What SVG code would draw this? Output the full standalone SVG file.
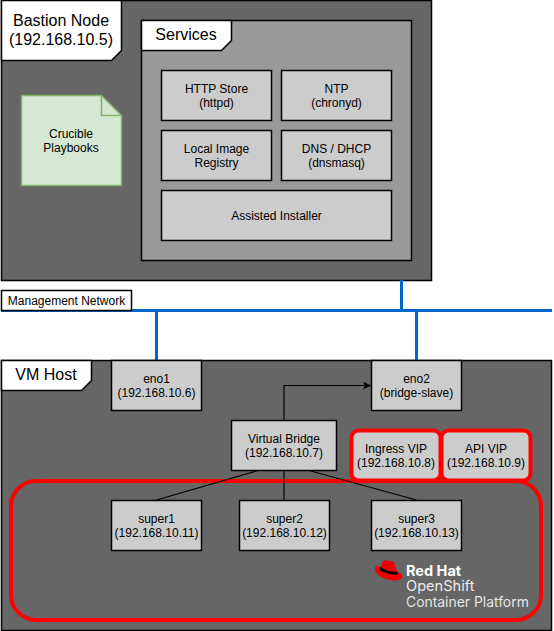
<svg xmlns="http://www.w3.org/2000/svg" width="554" height="631" viewBox="0 0 554 631">
<style>
text{font-family:"Liberation Sans",Arial,sans-serif;fill:#000;text-anchor:middle}
.s{font-size:12px}
.l{font-size:16px}
.frame{fill:#666;stroke:#000;stroke-width:1.5}
.box{fill:#ccc;stroke:#000;stroke-width:1.5}
.tab{fill:#fff;stroke:#000;stroke-width:1.5}
.vip{fill:#ccc;stroke:#f00;stroke-width:4}
.net{fill:none;stroke:#0066cc;stroke-width:3}
.wire{fill:none;stroke:#000;stroke-width:1.2}
.rh{font-family:"Inter","Liberation Sans",sans-serif;fill:#fff;text-anchor:start}
</style>
<defs>
<marker id="arrow" markerWidth="10" markerHeight="10" refX="8" refY="4" orient="auto" markerUnits="userSpaceOnUse"><path d="M0,0L8,4L0,8L2,4Z" fill="#000"/></marker>
</defs>
<rect width="554" height="631" fill="#fff"/>
<g id="bastion">
<rect class="frame" x="1.5" y="0.5" width="430" height="280"/>
<path class="tab" d="M1.5,0.5H121.5V50.5L111.5,60.5H1.5Z"/>
<text class="l" x="61" y="26">Bastion Node</text>
<text class="l" x="61" y="45">(192.168.10.5)</text>
</g>
<g id="playbooks">
<path d="M21.5,95.5H101.5L121.5,115.5V185.5H21.5Z" fill="#d5e8d4" stroke="#82b366" stroke-width="1.5"/>
<path d="M101.5,95.5V115.5H121.5" fill="none" stroke="#82b366" stroke-width="1.5"/>
<text class="s" x="71" y="138">Crucible</text>
<text class="s" x="71" y="152">Playbooks</text>
</g>
<g id="services">
<rect x="141.5" y="20.5" width="270" height="240" fill="#999" stroke="#000" stroke-width="1.5"/>
<path class="tab" d="M141.5,20.5H231.5V40.5L221.5,50.5H141.5Z"/>
<text class="l" x="186" y="40">Services</text>
</g>
<g id="http"><rect class="box" x="161.5" y="70.5" width="110" height="50"/><text class="s" x="216.5" y="93">HTTP Store</text><text class="s" x="216.5" y="107">(httpd)</text></g>
<g id="ntp"><rect class="box" x="281.5" y="70.5" width="110" height="50"/><text class="s" x="336.5" y="93">NTP</text><text class="s" x="336.5" y="107">(chronyd)</text></g>
<g id="registry"><rect class="box" x="161.5" y="130.5" width="110" height="50"/><text class="s" x="216.5" y="153">Local Image</text><text class="s" x="216.5" y="167">Registry</text></g>
<g id="dns"><rect class="box" x="281.5" y="130.5" width="110" height="50"/><text class="s" x="336.5" y="153">DNS / DHCP</text><text class="s" x="336.5" y="167">(dnsmasq)</text></g>
<g id="assisted"><rect class="box" x="161.5" y="190.5" width="230" height="50"/><text class="s" x="276.5" y="220">Assisted Installer</text></g>
<g id="vmhost">
<rect class="frame" x="1.5" y="360.5" width="550" height="270"/>
<path class="tab" d="M1.5,360.5H91.5V380.5L81.5,390.5H1.5Z"/>
<text class="l" x="46" y="380">VM Host</text>
</g>
<g id="cluster"><rect x="11" y="481" width="530" height="139" rx="25" fill="none" stroke="#f00" stroke-width="4"/></g>
<g id="connectors">
<path class="net" d="M1,310.5H552"/>
<path class="net" d="M401.5,280V310.5"/>
<path class="net" d="M156.5,310.5V360"/>
<path class="net" d="M416.5,310.5V360"/>
<path class="wire" d="M284,420V385.5H371" marker-end="url(#arrow)"/>
<path class="wire" d="M258,470.5L156.5,500"/>
<path class="wire" d="M284,470V500"/>
<path class="wire" d="M309,470.5L416.5,500"/>
</g>
<g id="mgmt"><rect class="tab" x="1.5" y="290.5" width="130" height="20"/><text class="s" x="66.5" y="305">Management Network</text></g>
<g id="eno1"><rect class="box" x="111.5" y="360.5" width="90" height="50"/><text class="s" x="156.5" y="383">eno1</text><text class="s" x="156.5" y="397">(192.168.10.6)</text></g>
<g id="eno2"><rect class="box" x="371.5" y="360.5" width="90" height="50"/><text class="s" x="416.5" y="383">eno2</text><text class="s" x="416.5" y="397">(bridge-slave)</text></g>
<g id="bridge"><rect class="box" x="231.5" y="420.5" width="105" height="50"/><text class="s" x="284" y="443">Virtual Bridge</text><text class="s" x="284" y="457">(192.168.10.7)</text></g>
<g id="ingress"><rect class="vip" x="351.5" y="430.5" width="89" height="50" rx="7"/><text class="s" x="396" y="452.5">Ingress VIP</text><text class="s" x="396" y="466.5">(192.168.10.8)</text></g>
<g id="api"><rect class="vip" x="441.5" y="430.5" width="89" height="50" rx="7"/><text class="s" x="486" y="452.5">API VIP</text><text class="s" x="486" y="466.5">(192.168.10.9)</text></g>
<g id="super1"><rect class="box" x="111.5" y="500.5" width="90" height="50"/><text class="s" x="156.5" y="523">super1</text><text class="s" x="156.5" y="537">(192.168.10.11)</text></g>
<g id="super2"><rect class="box" x="239.5" y="500.5" width="90" height="50"/><text class="s" x="284.5" y="523">super2</text><text class="s" x="284.5" y="537">(192.168.10.12)</text></g>
<g id="super3"><rect class="box" x="371.5" y="500.5" width="90" height="50"/><text class="s" x="416.5" y="523">super3</text><text class="s" x="416.5" y="537">(192.168.10.13)</text></g>
<g id="logo">
<path d="M375,568.5C375,565.5 378.5,565.5 380.5,566.8L382.5,562C383.5,560 386,560 388,560.8C390,561.5 393,560.5 394,562.5L397,571.5C402,573.5 403.5,576 402,578C400,581 392,581 386,579C380,577.5 375,573 375,568.5Z" fill="#e00"/>
<path d="M380,566.8C385,570.5 392,572.5 397,571.5L398,574.5C392,575.5 383,572.5 379,569.5Z" fill="#000"/>
<text class="rh" x="406" y="575.5" font-size="14.5" font-weight="700">Red Hat</text>
<text class="rh" x="406" y="591" font-size="14.6" fill-opacity=".9">OpenShift</text>
<text class="rh" x="406" y="606.5" font-size="13.9" fill-opacity=".85">Container Platform</text>
</g>
</svg>
